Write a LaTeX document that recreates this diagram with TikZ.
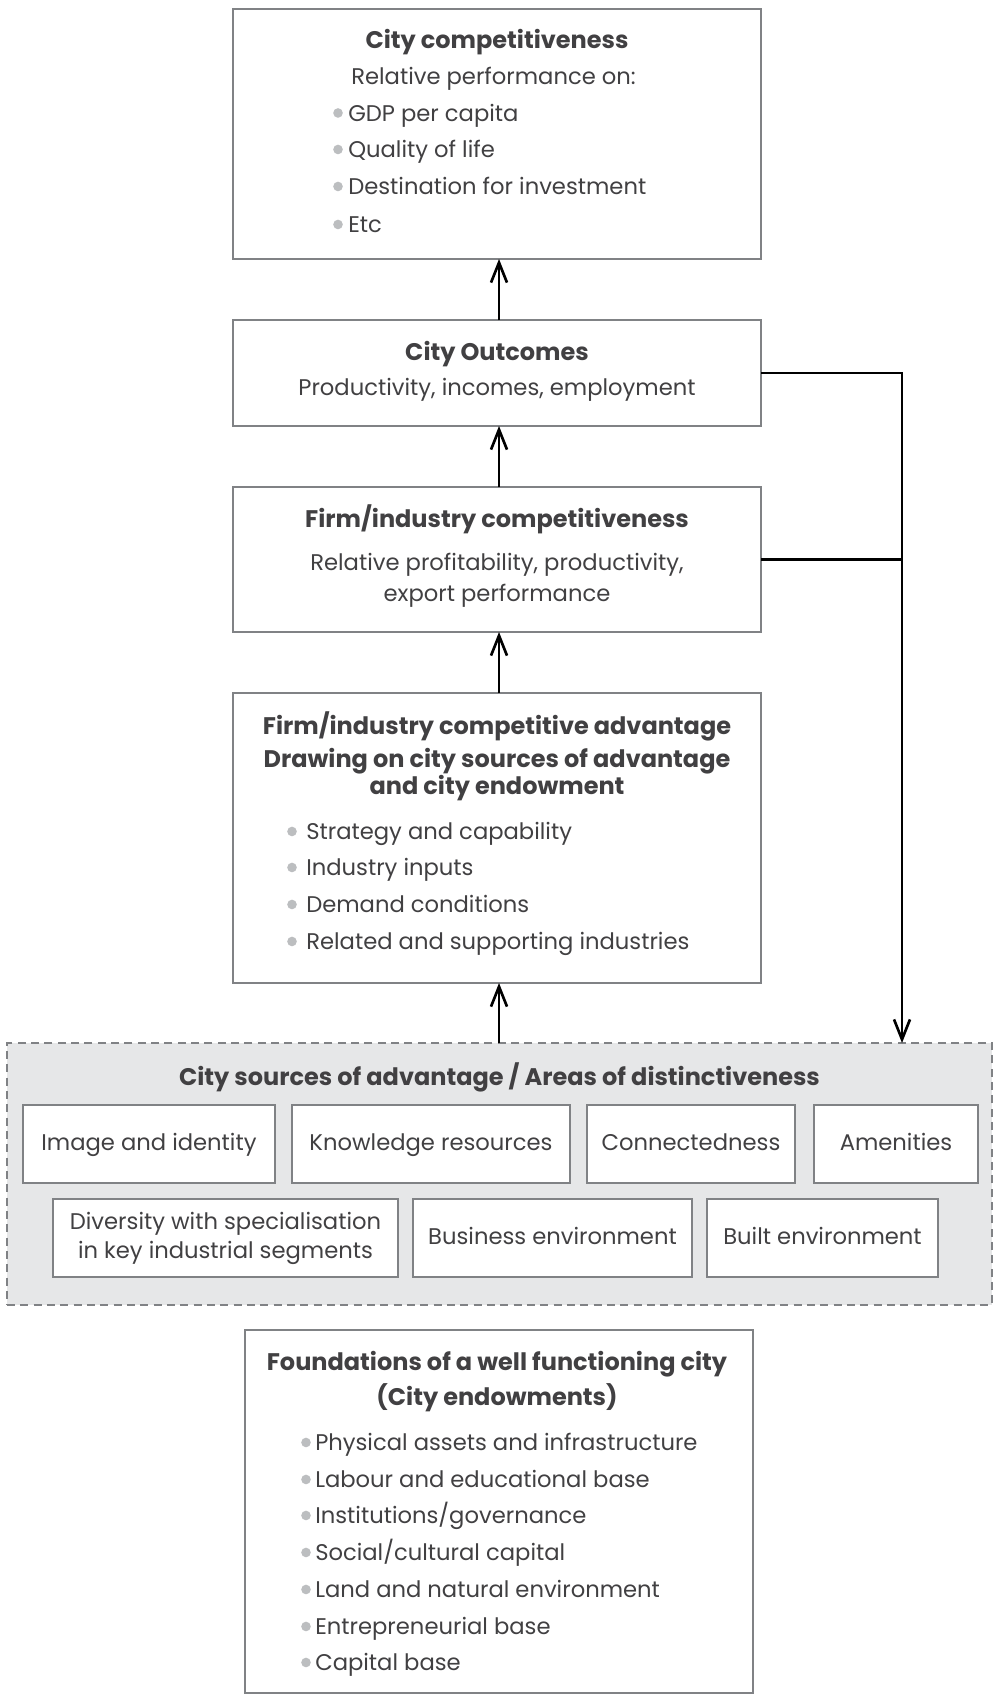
\documentclass[tikz,border=0pt]{standalone}
\usepackage{fontspec}
\setmainfont{Poppins}
\usetikzlibrary{arrows.meta,calc}
\definecolor{txt}{HTML}{414042}
\definecolor{frame}{HTML}{808285}
\definecolor{dotc}{HTML}{BCBEC0}
\definecolor{panelc}{HTML}{E6E7E8}
\newcommand\bodyf{\fontsize{17pt}{21.75pt}\selectfont}
\newcommand\boldf{\fontsize{18pt}{21pt}\selectfont\bfseries}
\begin{document}
\begin{tikzpicture}[x=0.75pt,y=-0.75pt,
  box/.style={draw=frame,line width=1.5pt,fill=white,inner sep=0pt,outer sep=0pt,
    text=txt,font=\bodyf,align=center},
  sbox/.style={box,minimum height=58.5pt,text height=13pt,text depth=3.5pt},
  panelbox/.style={draw=frame,line width=1.5pt,dashed,dash pattern=on 6pt off 4pt,
    fill=panelc,inner sep=0pt,outer sep=0pt},
  ttl/.style={text=txt,font=\boldf,inner sep=0pt,anchor=mid,yshift=-3.75pt},
  ln/.style={text=txt,font=\bodyf,inner sep=0pt,anchor=mid,yshift=-3.75pt},
  item/.style={text=txt,font=\bodyf,inner sep=0pt,anchor=mid west,yshift=-3.75pt},
  bul/.style={fill=dotc},
  arr/.style={line width=2pt,-{Straight Barb[length=15pt,width=12pt,line width=2pt]}},
  link/.style={line width=2pt}]
\useasboundingbox (0,0) rectangle (994,1696);
% main boxes
\node[box,minimum width=396pt,minimum height=187.5pt] (b1) at (497,134) {};
\node[box,minimum width=396pt,minimum height=79.5pt] (b2) at (497,373) {};
\node[box,minimum width=396pt,minimum height=108.75pt] (b3) at (497,559.5) {};
\node[box,minimum width=396pt,minimum height=217.5pt] (b4) at (497,838) {};
\node[panelbox,minimum width=738.75pt,minimum height=196.5pt] (panel) at (499.5,1174) {};
\node[box,minimum width=381pt,minimum height=272.25pt] (b5) at (499,1511.5) {};
% box 1 text
\node[ttl] (t1) at (497,40) {City competitiveness};
\node[item] (t1a) at (351,76) {Relative performance on:};
\node[item] (i11) at (348,112.5) {GDP per capita};
\node[item] (i12) at (348,149) {Quality of life};
\node[item] (i13) at (348,186) {Destination for investment};
\node[item] (i14) at (348,224) {Etc};
\foreach \n in {i11,i12,i13,i14} \fill[bul] ([yshift=3.4pt]338,0 |- \n.mid west) circle (3.6pt);
% box 2 text
\node[ttl] (t2) at (497,352) {City Outcomes};
\node[ln] (t2a) at (497,387) {Productivity, incomes, employment};
% box 3 text
\node[ttl] (t3) at (497,519) {Firm/industry competitiveness};
\node[ln] (t3a) at (497,562) {Relative profitability, productivity,};
\node[ln] (t3b) at (497,593) {export performance};
% box 4 text
\node[ttl] (t4) at (497,726) {Firm/industry competitive advantage};
\node[ttl] (t4a) at (497,759) {Drawing on city sources of advantage};
\node[ttl] (t4b) at (497,786) {and city endowment};
\node[item] (i41) at (306,831) {Strategy and capability};
\node[item] (i42) at (306,867) {Industry inputs};
\node[item] (i43) at (306,904) {Demand conditions};
\node[item] (i44) at (306,941) {Related and supporting industries};
\foreach \n in {i41,i42,i43,i44} \fill[bul] ([yshift=3.4pt]292,0 |- \n.mid west) circle (3.6pt);
% panel contents
\node[ttl] (tp) at (499.5,1077) {City sources of advantage / Areas of distinctiveness};
\node[sbox,minimum width=189pt] (s1) at (149,1144) {Image and identity};
\node[sbox,minimum width=208.5pt] (s2) at (431,1144) {Knowledge resources};
\node[sbox,minimum width=156pt] (s3) at (691,1144) {Connectedness};
\node[sbox,minimum width=123pt] (s4) at (896,1144) {Amenities};
\node[box,minimum width=258.75pt,minimum height=58.5pt] (s5) at (225.5,1238) {Diversity with specialisation\\in key industrial segments};
\node[sbox,minimum width=209.25pt] (s6) at (552.5,1238) {Business environment};
\node[sbox,minimum width=173.25pt] (s7) at (822.5,1238) {Built environment};
% foundations
\node[ttl] (t5) at (497,1362) {Foundations of a well functioning city};
\node[ttl] (t5a) at (497,1397) {(City endowments)};
\node[item] (i51) at (315,1442) {Physical assets and infrastructure};
\node[item] (i52) at (315,1479) {Labour and educational base};
\node[item] (i53) at (315,1515) {Institutions/governance};
\node[item] (i54) at (315,1552) {Social/cultural capital};
\node[item] (i55) at (315,1589) {Land and natural environment};
\node[item] (i56) at (315,1626) {Entrepreneurial base};
\node[item] (i57) at (315,1662) {Capital base};
\foreach \n in {i51,i52,i53,i54,i55,i56,i57} \fill[bul] ([yshift=3.4pt]306,0 |- \n.mid west) circle (3.6pt);
% connectors
\draw[arr] ($(b2.north)+(2,0)$) -- ($(b1.south)+(2,0)$);
\draw[arr] ($(b3.north)+(2,0)$) -- ($(b2.south)+(2,0)$);
\draw[arr] ($(b4.north)+(2,0)$) -- ($(b3.south)+(2,0)$);
\draw[arr] ($(b4.south |- panel.north)+(2,0)$) -- ($(b4.south)+(2,0)$);
\coordinate (rail) at (902,373);
\draw[arr] (b2.east) -- (rail) -- (rail |- panel.north);
\draw[link] (b3.east) -- (b3.east -| rail);
\end{tikzpicture}
\end{document}
